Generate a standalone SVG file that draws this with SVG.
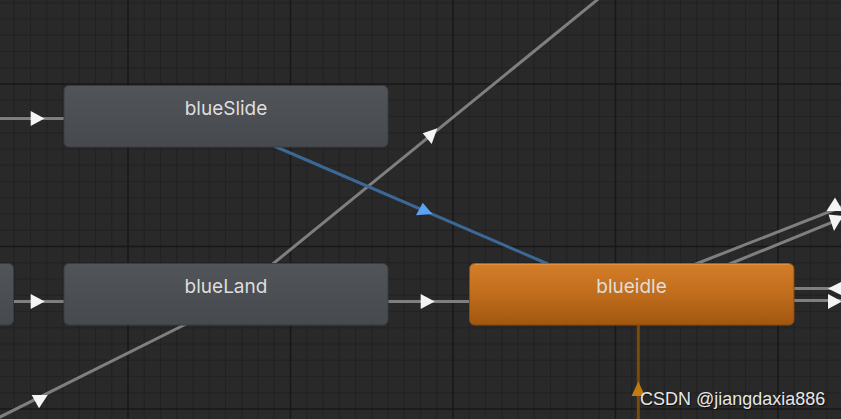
<svg xmlns="http://www.w3.org/2000/svg" width="841" height="419" viewBox="0 0 841 419">
  <defs>
    <linearGradient id="gGrey" x1="0" y1="0" x2="0" y2="1">
      <stop offset="0" stop-color="#515458"/>
      <stop offset="1" stop-color="#46494d"/>
    </linearGradient>
    <linearGradient id="gOrange" x1="0" y1="0" x2="0" y2="1">
      <stop offset="0" stop-color="#d37d29"/>
      <stop offset="0.5" stop-color="#c06d1d"/>
      <stop offset="1" stop-color="#a1560f"/>
    </linearGradient>
    <style>
      .minor { stroke: #222222; stroke-width: 1; fill: none; }
      .major { stroke: #181818; stroke-width: 1.5; fill: none; }
      .edge { stroke: #7f7f7f; stroke-width: 3; fill: none; }
      .head { fill: #f4f4f4; }
      .node { fill: url(#gGrey); stroke: #3a3c3f; stroke-width: 1; }
      .active { fill: url(#gOrange); stroke: #8a4a10; stroke-width: 1; }
      .label { font-family: Inter, "Noto Sans", "Liberation Sans", sans-serif; font-size: 19px; fill: #dedede; text-anchor: middle; }
      .wm { font-family: "Liberation Sans", Arial, sans-serif; font-size: 18px; }
    </style>
  </defs>

  <rect x="0" y="0" width="841" height="419" fill="#292929"/>
  <g id="grid">
    <path class="minor" d="M14.25 0V419M30.5 0V419M46.75 0V419M63 0V419M79.25 0V419M95.5 0V419M111.75 0V419M144.25 0V419M160.5 0V419M176.75 0V419M193 0V419M209.25 0V419M225.5 0V419M241.75 0V419M258 0V419M274.25 0V419M306.75 0V419M323 0V419M339.25 0V419M355.5 0V419M371.75 0V419M388 0V419M404.25 0V419M420.5 0V419M436.75 0V419M469.25 0V419M485.5 0V419M501.75 0V419M518 0V419M534.25 0V419M550.5 0V419M566.75 0V419M583 0V419M599.25 0V419M631.75 0V419M648 0V419M664.25 0V419M680.5 0V419M696.75 0V419M713 0V419M729.25 0V419M745.5 0V419M761.75 0V419M794.25 0V419M810.5 0V419M826.75 0V419M0 2.75H841M0 19H841M0 35.25H841M0 51.5H841M0 67.75H841M0 100.25H841M0 116.5H841M0 132.75H841M0 149H841M0 165.25H841M0 181.5H841M0 197.75H841M0 214H841M0 230.25H841M0 262.75H841M0 279H841M0 295.25H841M0 311.5H841M0 327.75H841M0 344H841M0 360.25H841M0 376.5H841M0 392.75H841"/>
    <path class="major" d="M128 0V419M290.5 0V419M453 0V419M615.5 0V419M778 0V419M0 84H841M0 246.5H841M0 409H841"/>
  </g>

  <g id="connectors">
    <!-- into blueSlide -->
    <path class="edge" d="M0 118.5H64"/>
    <polygon class="head" points="30.7,111 30.7,126 44.5,118.5"/>
    <!-- into blueLand -->
    <path class="edge" d="M14 301.5H64"/>
    <polygon class="head" points="30.7,294 30.7,309 44.7,301.5"/>
    <!-- blueLand to blueidle -->
    <path class="edge" d="M388 301.5H470"/>
    <polygon class="head" points="420.7,294 420.7,309 434.7,301.5"/>
    <!-- long diagonal up-right -->
    <path class="edge" d="M226 302L620 -18.7"/>
    <polygon class="head" points="422.7,133.3 437.3,128.3 431.7,144"/>
    <!-- diagonal down-left -->
    <path class="edge" d="M226 304L-4 419"/>
    <polygon class="head" points="31.7,395 47.7,395 39,408.3"/>
    <!-- blue: blueSlide to blueidle -->
    <path d="M274 146L548 264" stroke="#3b6896" stroke-width="3" fill="none"/>
    <polygon points="416,215.3 432.3,214 422.7,202.7" fill="#5ba3f2"/>
    <!-- right side diagonals -->
    <path class="edge" d="M660 278L845 205.5"/>
    <path class="edge" d="M700 276L845 217"/>
    <polygon class="head" points="835,197.5 826.5,211 843,211"/>
    <polygon class="head" points="828.5,214.5 843,216 834,231"/>
    <!-- right side horizontals -->
    <path class="edge" d="M794 288.5H841"/>
    <path class="edge" d="M794 300.5H841"/>
    <polygon class="head" points="828,288.5 842,281.5 842,295.5"/>
    <polygon class="head" points="828,294 828,309 842,301.5"/>
    <!-- orange entry line -->
    <path d="M638.3 325V419" stroke="#7a4a0a" stroke-width="3" fill="none"/>
    <polygon points="638.3,381.5 631.5,396 645,396" fill="#c27b12"/>
  </g>

  <g id="node-left">
    <rect class="node" x="-20" y="263.5" width="33.5" height="61.5" rx="5"/>
  </g>
  <g id="node-blueSlide">
    <rect class="node" x="64" y="85.5" width="324" height="61.5" rx="5"/>
    <text class="label" x="226" y="115">blueSlide</text>
  </g>
  <g id="node-blueLand">
    <rect class="node" x="64" y="263.5" width="324" height="61.5" rx="5"/>
    <text class="label" x="226" y="293">blueLand</text>
  </g>
  <g id="node-blueidle">
    <rect class="active" x="469.5" y="263.5" width="324.5" height="61.5" rx="5"/>
    <path d="M474.5 264.2H789" stroke="#e6974a" stroke-width="1" fill="none"/>
    <text class="label" x="631.5" y="293">blueidle</text>
  </g>

  <g id="watermark">
    <text class="wm" x="641" y="406" fill="#000" fill-opacity="0.7">CSDN @jiangdaxia886</text>
    <text class="wm" x="640" y="405" fill="#e6e6e6">CSDN @jiangdaxia886</text>
  </g>
</svg>
